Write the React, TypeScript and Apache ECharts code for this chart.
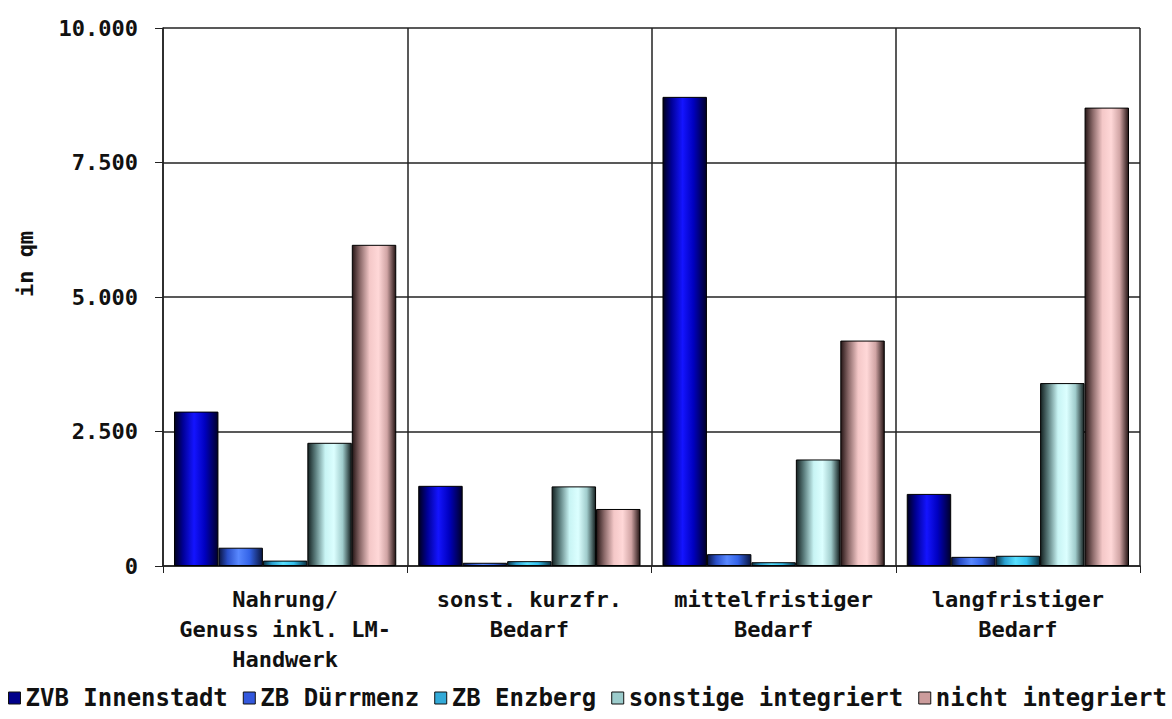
import React, { useEffect, useRef } from "react";
import * as echarts from "echarts";

// Sales floor area by location type and demand group
const categories = [
  "Nahrung/\nGenuss inkl. LM-\nHandwerk",
  "sonst. kurzfr.\nBedarf",
  "mittelfristiger\nBedarf",
  "langfristiger\nBedarf",
];

const seriesNames = [
  "ZVB Innenstadt",
  "ZB Dürrmenz",
  "ZB Enzberg",
  "sonstige integriert",
  "nicht integriert",
];

const zvbInnenstadt = [2870, 1490, 8720, 1340];
const zbDuerrmenz = [340, 60, 220, 170];
const zbEnzberg = [100, 90, 70, 190];
const sonstigeIntegriert = [2290, 1480, 1980, 3400];
const nichtIntegriert = [5970, 1060, 4190, 8520];

const yTicks = [0, 2500, 5000, 7500, 10000];

const FONT = "'DejaVu Sans Mono', monospace";

// cylinder-like horizontal shading: [offset, colour]
const shading: [number, string][][] = [
  [[0, "#00001c"], [0.2, "#000098"], [0.45, "#1414ff"], [0.7, "#0000c0"], [1, "#00002a"]],
  [[0, "#0a1440"], [0.2, "#2a4fc8"], [0.45, "#5888ff"], [0.7, "#3464e8"], [1, "#0a1640"]],
  [[0, "#0a3040"], [0.2, "#2aa0d0"], [0.45, "#58e0ff"], [0.7, "#34c0ee"], [1, "#0a3040"]],
  [[0, "#152222"], [0.18, "#5e8080"], [0.4, "#c8f4f4"], [0.6, "#dcffff"], [0.8, "#a0cccc"], [1, "#142020"]],
  [[0, "#261616"], [0.18, "#8c6a6a"], [0.4, "#f4c8c8"], [0.6, "#ffd8d8"], [0.8, "#d0a4a4"], [1, "#241414"]],
];

const legendColors = ["#00008a", "#3358dd", "#33aad8", "#9ccccc", "#cc9c9c"];

const values = [zvbInnenstadt, zbDuerrmenz, zbEnzberg, sonstigeIntegriert, nichtIntegriert];

function formatDe(v: number): string {
  return String(v).replace(/\B(?=(\d{3})+(?!\d))/g, ".");
}

export default function App() {
  const ref = useRef<HTMLDivElement>(null);

  useEffect(() => {
    if (!ref.current) return;
    const chart = echarts.init(ref.current, undefined, { renderer: "svg" });

    const series = seriesNames.map((name, i) => ({
      name,
      type: "bar" as const,
      data: values[i],
      barGap: "0%",
      barCategoryGap: "9%",
      itemStyle: {
        color: new echarts.graphic.LinearGradient(
          0,
          0,
          1,
          0,
          shading[i].map(([offset, color]) => ({ offset, color }))
        ),
        borderColor: "#000",
        borderWidth: 1,
      },
    }));

    chart.setOption({
      animation: false,
      backgroundColor: "#fff",
      grid: { left: 163, right: 32, top: 28, bottom: 153 },
      legend: {
        left: 8,
        top: 686,
        padding: 0,
        itemWidth: 12,
        itemHeight: 12,
        itemGap: 15,
        icon: "rect",
        textStyle: { fontFamily: FONT, fontWeight: "bold", fontSize: 24, color: "#111" },
        data: seriesNames.map((name, i) => ({
          name,
          itemStyle: { color: legendColors[i], borderColor: "#111", borderWidth: 1 },
        })),
      },
      xAxis: {
        type: "category",
        data: categories,
        axisLine: { show: true, lineStyle: { color: "#222", width: 1.5 } },
        axisTick: { show: true, length: 7, lineStyle: { color: "#222", width: 1 } },
        splitLine: { show: true, interval: 0, lineStyle: { color: "#222", width: 1.5 } },
        axisLabel: {
          interval: 0,
          margin: 18,
          fontFamily: FONT,
          fontWeight: "bold",
          fontSize: 22,
          lineHeight: 30,
          color: "#111",
          align: "center",
        },
      },
      yAxis: {
        type: "value",
        min: yTicks[0],
        max: yTicks[yTicks.length - 1],
        interval: yTicks[1] - yTicks[0],
        axisLine: { show: true, lineStyle: { color: "#222", width: 1.5 } },
        axisTick: { show: true, length: 8, lineStyle: { color: "#222", width: 1 } },
        splitLine: { show: true, lineStyle: { color: "#222", width: 1.5 } },
        axisLabel: {
          margin: 25,
          fontFamily: FONT,
          fontWeight: "bold",
          fontSize: 22,
          color: "#111",
          formatter: (v: number) => formatDe(v),
        },
      },
      graphic: [
        {
          type: "text",
          x: 25,
          y: 264,
          rotation: Math.PI / 2,
          style: {
            text: "in qm",
            fontFamily: FONT,
            fontWeight: "bold",
            fontSize: 22,
            fill: "#111",
            align: "center",
            verticalAlign: "middle",
          },
        },
      ],
      series,
    });

    return () => chart.dispose();
  }, []);

  return (
    <div
      ref={ref}
      style={{ position: "fixed", left: 0, top: 0, width: 1172, height: 719 }}
    />
  );
}
